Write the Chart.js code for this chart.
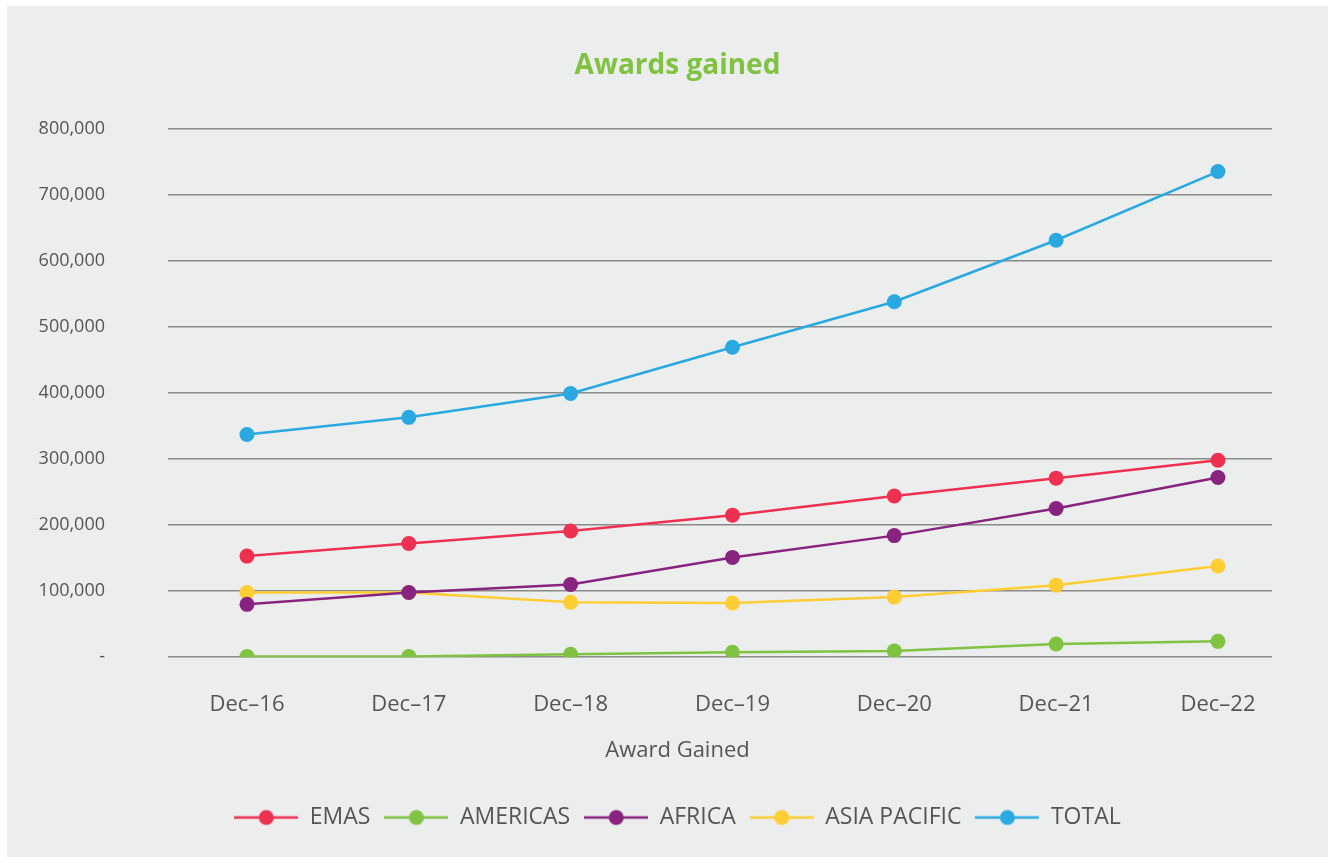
<!DOCTYPE html>
<html>
<head>
<meta charset="utf-8">
<script src="https://cdn.jsdelivr.net/npm/chart.js@4.4.1/dist/chart.umd.min.js"></script>
<style>
  html, body { margin: 0; padding: 0; background: #ffffff; }
  #panel { position: absolute; left: 7px; top: 6px; width: 1321px; height: 851px; background: #eceded; }
  #wrap { position: absolute; left: 0; top: 0; width: 1335px; height: 863px; }
</style>
</head>
<body>
<div id="panel"></div>
<div id="wrap"><canvas id="myChart" width="1335" height="863"></canvas></div>
<script>
const categories = ["Dec\u201316", "Dec\u201317", "Dec\u201318", "Dec\u201319", "Dec\u201320", "Dec\u201321", "Dec\u201322"];
const emas = [153000, 172000, 191000, 215000, 244000, 271000, 298000];
const americas = [1000, 1000, 4500, 7500, 9500, 20000, 24000];
const africa = [80000, 98000, 110000, 151000, 184000, 225000, 272000];
const asiaPacific = [98000, 98000, 83000, 82000, 91000, 109000, 138000];
const total = [337000, 363000, 399000, 469000, 538000, 631000, 735000];
const yTicks = [0, 100000, 200000, 300000, 400000, 500000, 600000, 700000, 800000];

const seriesList = [
    { label: "EMAS", values: emas, color: "#ee3150" },
    { label: "AMERICAS", values: americas, color: "#80c241" },
    { label: "AFRICA", values: africa, color: "#88247f" },
    { label: "ASIA PACIFIC", values: asiaPacific, color: "#ffcd34" },
    { label: "TOTAL", values: total, color: "#29a9e0" },
];

const FONT = "'Open Sans', 'DejaVu Sans', sans-serif";
const TEXT = "#555555";

// little line + dot picture used as the legend marker
function legendSwatch(color) {
    const c = document.createElement("canvas");
    c.width = 64;
    c.height = 18;
    const g = c.getContext("2d");
    g.strokeStyle = color;
    g.lineWidth = 2.5;
    g.beginPath();
    g.moveTo(0, 9);
    g.lineTo(64, 9);
    g.stroke();
    g.fillStyle = color;
    g.beginPath();
    g.arc(32, 9, 7.5, 0, Math.PI * 2);
    g.fill();
    return c;
}

const datasets = seriesList.map((s) => ({
    label: s.label,
    data: s.values.map((v, i) => ({ x: i, y: v })),
    borderColor: s.color,
    backgroundColor: s.color,
    pointBackgroundColor: s.color,
    pointBorderWidth: 0,
    pointRadius: 7.5,
    borderWidth: 2.5,
    tension: 0,
    yAxisID: "y",
    swatch: legendSwatch(s.color),
}));

const ctx = document.getElementById("myChart").getContext("2d");
window.myChart = new Chart(ctx, {
    type: "line",
    data: { datasets: datasets },
    options: {
        responsive: false,
        animation: false,
        layout: { padding: { left: 20, right: 0, top: 49, bottom: 24 } },
        plugins: {
            title: {
                display: true,
                text: "Awards gained",
                color: "#80c241",
                font: { family: FONT, size: 28, weight: "bold" },
                padding: { top: 0, bottom: 46 },
            },
            legend: {
                position: "bottom",
                title: {
                    display: true,
                    text: "Award Gained",
                    color: TEXT,
                    font: { family: FONT, size: 22 },
                    padding: { top: 0, bottom: 26 },
                },
                labels: {
                    color: TEXT,
                    font: { family: FONT, size: 23 },
                    usePointStyle: true,
                    pointStyleWidth: 64,
                    boxHeight: 18,
                    padding: 14,
                    generateLabels: (chart) => chart.data.datasets.map((ds, i) => ({
                        text: ds.label,
                        fontColor: TEXT,
                        pointStyle: ds.swatch,
                        lineWidth: 0,
                        strokeStyle: "rgba(0,0,0,0)",
                        fillStyle: "rgba(0,0,0,0)",
                        datasetIndex: i,
                    })),
                },
            },
            tooltip: { enabled: false },
        },
        scales: {
            x: {
                type: "linear",
                min: -0.488,
                max: 6.334,
                afterFit: (scale) => {
                    scale.height = scale.height - 12;
                },
                grid: { display: false, drawTicks: false },
                border: { display: false },
                ticks: {
                    stepSize: 1,
                    includeBounds: false,
                    autoSkip: false,
                    maxRotation: 0,
                    padding: 34,
                    color: TEXT,
                    font: { family: FONT, size: 22 },
                    callback: (v) => Number.isInteger(v) && categories[v] !== undefined ? categories[v] : "",
                },
            },
            y: {
                min: 0,
                max: 800000,
                afterBuildTicks: (scale) => {
                    scale.ticks = yTicks.map((v) => ({ value: v }));
                },
                afterFit: (scale) => {
                    scale.width = 148;
                },
                grid: { color: "#8a8a8a", lineWidth: 1.5, drawTicks: false },
                border: { display: false },
                ticks: {
                    padding: 63,
                    color: TEXT,
                    font: { family: FONT, size: 18 },
                    callback: (v) => v === 0 ? "-" : v.toLocaleString("en-US"),
                },
            },
            // empty axis on the right to keep the space beside the plot
            yRight: {
                position: "right",
                min: 0,
                max: 800000,
                grid: { display: false, drawTicks: false },
                border: { display: false },
                ticks: { display: false },
                afterFit: (scale) => {
                    scale.width = 63;
                },
            },
        },
    },
});
</script>
</body>
</html>
